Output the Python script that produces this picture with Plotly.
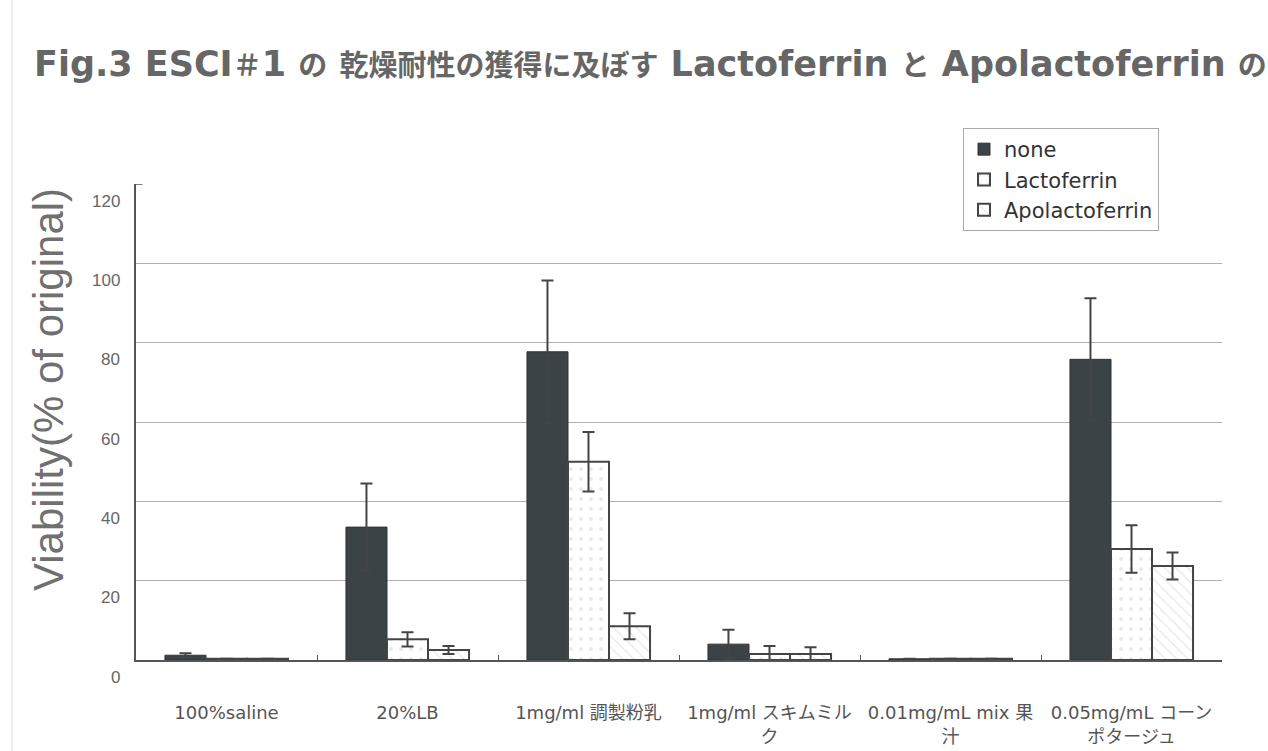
import plotly.graph_objects as go

categories = ["100%saline", "20%LB", "1mg/ml 調製粉乳", "1mg/ml スキムミル<br>ク",
              "0.01mg/mL mix 果<br>汁", "0.05mg/mL コーン<br>ポタージュ"]
series_names = ["none", "Lactoferrin", "Apolactoferrin"]
none_vals = [1.2, 33.5, 77.7, 4.0, 0.3, 75.8]
none_err = [0.5, 11.0, 18.0, 3.6, 0.0, 15.4]
lacto_vals = [0.3, 5.2, 50.0, 1.5, 0.3, 28.0]
lacto_err = [0.0, 1.8, 7.5, 2.0, 0.0, 6.0]
apo_vals = [0.3, 2.5, 8.5, 1.5, 0.3, 23.7]
apo_err = [0.0, 1.0, 3.3, 1.7, 0.0, 3.4]
y_grid = [20, 40, 60, 80, 100]
y_tick_labels = [0, 20, 40, 60, 80, 100, 120]
# title pieces: (text, is_latin)
title_parts = [("Fig.3 ESCI", True), ("＃", False), ("1 ", True), ("の", False), (" ", True),
               ("乾燥耐性の獲得に及ぼす", False), (" Lactoferrin ", True), ("と", False),
               (" Apolactoferrin ", True), ("の", False)]
y_title = "Viability(% of original)"

W, H = 1268, 751
L, R, T, B = 136, 46, 184, 91
PH = H - T - B
PW = W - L - R

err_style = dict(type="data", visible=True, color="#444444", thickness=2, width=6)

fig = go.Figure()
fig.add_trace(go.Bar(
    name=series_names[0], x=categories, y=none_vals,
    error_y=dict(array=none_err, **err_style),
    marker=dict(color="#3b4347", line=dict(color="#333333", width=1)),
))
fig.add_trace(go.Bar(
    name=series_names[1], x=categories, y=lacto_vals,
    error_y=dict(array=lacto_err, **err_style),
    marker=dict(color="white", line=dict(color="#444444", width=2),
                pattern=dict(shape=".", fgcolor="#d4d4d4", size=10, solidity=0.12)),
))
fig.add_trace(go.Bar(
    name=series_names[2], x=categories, y=apo_vals,
    error_y=dict(array=apo_err, **err_style),
    marker=dict(color="white", line=dict(color="#444444", width=2),
                pattern=dict(shape="\\", fgcolor="#cfcfcf", size=8, solidity=0.15)),
))

annotations = []
for v in y_tick_labels:
    annotations.append(dict(
        x=0, xref="paper", y=v, yref="y", text=str(v), showarrow=False,
        xanchor="right", yanchor="middle", xshift=-14, yshift=-17,
        font=dict(family="Liberation Sans, Arial", size=17, color="#666666")))
annotations.append(dict(
    x=0, xref="paper", y=(660 - 390) / PH, yref="paper", text=y_title,
    showarrow=False, textangle=-90, xanchor="center", yanchor="middle", xshift=-88,
    font=dict(family="Liberation Sans, Arial", size=42, color="#707070")))

title_html = "".join(
    f'<span style="font-size:35px">{t}</span>' if latin else t for t, latin in title_parts)
annotations.append(dict(
    x=0, xref="paper", y=(660 - 64) / PH, yref="paper", text="<b>" + title_html + "</b>",
    showarrow=False, xanchor="left", yanchor="middle", xshift=32 - L,
    font=dict(family="DejaVu Sans, Noto Sans CJK JP", size=29, color="#666666")))

shapes = [
    dict(type="line", xref="paper", yref="y", x0=0, x1=0.006, y0=120, y1=120,
         line=dict(color="#555555", width=1.5)),
    dict(type="line", xref="paper", yref="paper", x0=(12 - L) / PW, x1=(12 - L) / PW,
         y0=-B / PH, y1=(H - B) / PH, line=dict(color="#dddddd", width=1)),
]

fig.update_layout(
    width=W, height=H,
    margin=dict(l=L, r=R, t=T, b=B, pad=0, autoexpand=False),
    paper_bgcolor="white", plot_bgcolor="white",
    barmode="group", bargap=0.32, bargroupgap=0,
    showlegend=True,
    legend=dict(x=(963 - L) / PW, y=(660 - 128) / PH,
                xanchor="left", yanchor="top",
                bgcolor="white", bordercolor="#aaaaaa", borderwidth=1,
                font=dict(family="DejaVu Sans", size=21, color="#333333"),
                tracegroupgap=0, itemwidth=30, entrywidth=145, entrywidthmode="pixels"),
    annotations=annotations,
    shapes=shapes,
    xaxis=dict(
        type="category", showline=True, linecolor="#555555", linewidth=1.5,
        ticks="inside", tickson="boundaries", ticklen=5, tickcolor="#555555",
        showgrid=False, ticklabelstandoff=36, tickangle=0, automargin=False,
        tickfont=dict(family="DejaVu Sans, Noto Sans CJK JP", size=18, color="#555555"),
    ),
    yaxis=dict(
        range=[0, 120], tickvals=y_grid, showticklabels=False, ticks="",
        showgrid=True, gridcolor="#b0b0b0", gridwidth=1, automargin=False,
        showline=True, linecolor="#555555", linewidth=1.5, zeroline=False,
    ),
)

fig.write_html("out.html")
